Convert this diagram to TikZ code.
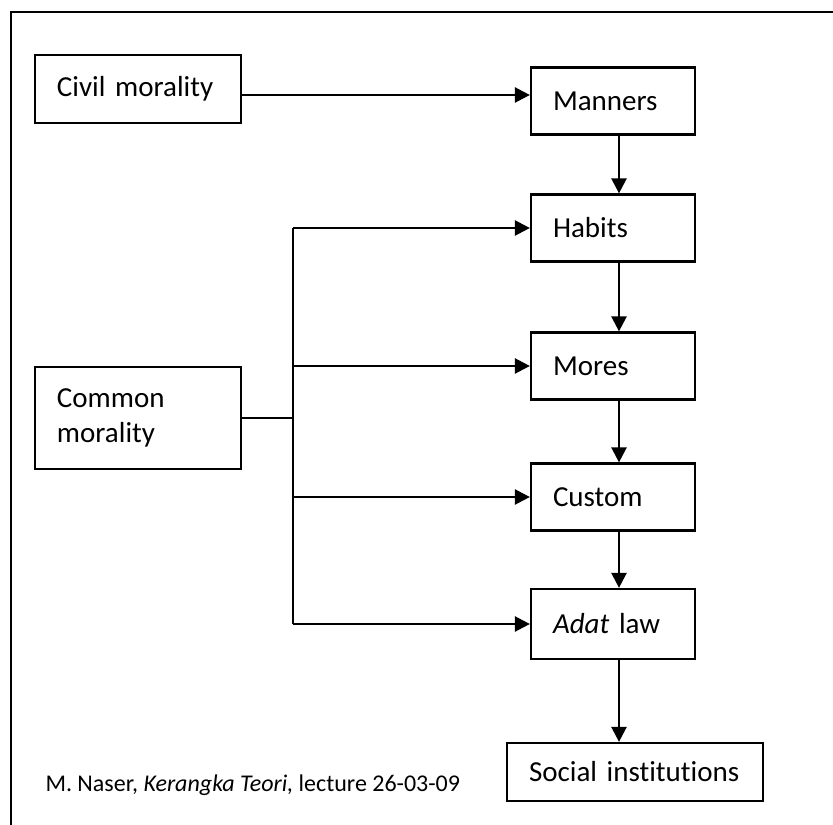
\documentclass[tikz,border=0pt]{standalone}
\usepackage{fontspec}
\setmainfont{Carlito}[Ligatures=NoCommon]
\usepackage{tikz}
\usetikzlibrary{arrows.meta}

\tikzset{
	stage/.style={draw, line width=0.9pt, inner xsep=8.8pt, align=left, font=\fontsize{11.6}{14}\selectfont},
	flow/.style={line width=1pt, -{Triangle[length=6pt,width=6pt]}},
}

\begin{document}
\begin{tikzpicture}[x=0.4pt, y=-0.4pt]
				\useasboundingbox (0,0) rectangle (833,825);
				% frame
				\draw[line width=1pt] (11,825) -- (11,12) -- (833,12);
				
				% left boxes
				\node[stage, text width=64.8pt, minimum height=27.2pt] (civil) at (138,89) {Civil morality};
				\node[stage, text width=64.8pt, minimum height=40.8pt] (common) at (138,418) {Common\\morality};
				
				% right boxes
				\node[stage, text width=48pt, minimum height=26.8pt] (manners) at (613,101) {Manners};
				\node[stage, text width=48pt, minimum height=26.8pt] (habits) at (613,228) {Habits};
				\node[stage, text width=48pt, minimum height=26.8pt] (mores) at (613,366) {Mores};
				\node[stage, text width=48pt, minimum height=26.8pt] (custom) at (613,497) {Custom};
				\node[stage, text width=48pt, minimum height=28pt] (adat) at (613,624) {\textit{Adat} law};
				\node[stage, text width=84.8pt, minimum height=23.2pt] (social) at (635,772) {Social institutions};
				
				% footer
				\node[anchor=west, inner sep=0pt, font=\fontsize{9.6}{11.5}\selectfont] (credit) at (45,785) {M. Naser, \textit{Kerangka Teori,} lecture 26-03-09};
				
				% arrows down the chain
				\draw[flow] ([yshift=-2.4pt]civil.east) -- ([yshift=-2.4pt]civil.east -| manners.west);
				\draw[flow] ([xshift=2.4pt]manners.south) -- ([xshift=2.4pt]habits.north);
				\draw[flow] ([xshift=2.4pt]habits.south) -- ([xshift=2.4pt]mores.north);
				\draw[flow] ([xshift=2.4pt]mores.south) -- ([xshift=2.4pt]custom.north);
				\draw[flow] ([xshift=2.4pt]custom.south) -- ([xshift=2.4pt]adat.north);
				\draw[flow] ([xshift=2.4pt]adat.south) -- ([xshift=2.4pt]adat.south |- social.north);
				
				% bus from common morality
				\coordinate (bus) at (293,418);
				\draw[line width=0.7pt] (common.east) -- (bus);
				\draw[line width=1pt] (bus |- habits.west) -- (bus |- adat.west);
				\draw[flow] (bus |- habits.west) -- (habits.west);
				\draw[flow] (bus |- mores.west) -- (mores.west);
				\draw[flow] (bus |- custom.west) -- (custom.west);
				\draw[flow] (bus |- adat.west) -- (adat.west);
			\end{tikzpicture}
\end{document}
